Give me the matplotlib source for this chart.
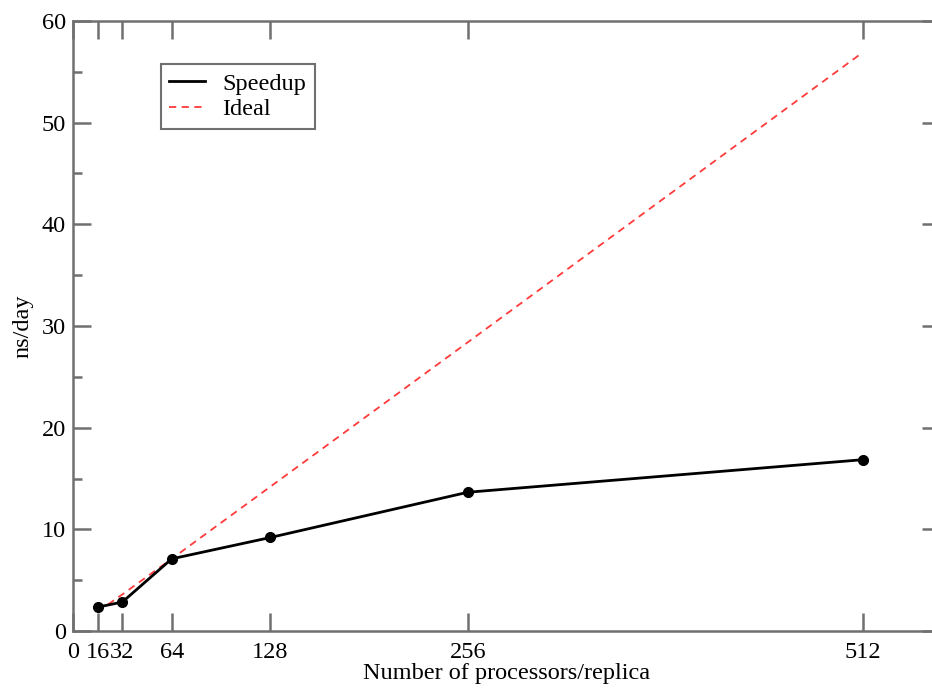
import numpy as np
import matplotlib.pyplot as plt
import matplotlib.ticker as ticker
from matplotlib.lines import Line2D

plt.rcParams['font.family'] = ['Liberation Serif', 'DejaVu Serif']

# data
procs = [16, 32, 64, 128, 256, 512]
speedup = [2.35, 2.85, 7.1, 9.2, 13.65, 16.85]
ideal = [1.9, 3.6, 7.1, 14.2, 28.4, 56.9]
xticks = [0, 16, 32, 64, 128, 256, 512]

fig = plt.figure(figsize=(9.32, 6.88), dpi=100)
# right spine sits just past the image edge, as in the reference crop
ax = fig.add_axes([0.0783, 0.0828, 0.930, 0.8867])

ax.plot(procs, speedup, color='black', lw=2, marker='o', ms=7, zorder=3)
ax.plot(procs, ideal, color='#ff3a3a', lw=1.3, ls=(0, (4, 3)), zorder=2)

ax.set_xlim(0, 562)
ax.set_ylim(0, 60)
ax.set_xticks(xticks)
ax.set_yticks(range(0, 61, 10))
ax.yaxis.set_minor_locator(ticker.MultipleLocator(5))

for s in ax.spines.values():
    s.set_color('#707070')
    s.set_linewidth(1.8)
ax.tick_params(which='both', direction='in', top=True, right=True, color='#707070',
               labelsize=17.5, width=1.8)
ax.tick_params(which='major', length=13)
ax.tick_params(which='minor', length=6.5, right=False)
ax.tick_params(axis='x', pad=8)
ax.tick_params(axis='y', pad=5)

ax.set_xlabel('Number of processors/replica', fontsize=17.5, labelpad=0)
ax.set_ylabel('ns/day', fontsize=17.5, labelpad=6)

handles = [Line2D([], [], color='black', lw=2),
           Line2D([], [], color='#ff3a3a', lw=1.3, ls=(0, (4, 3)))]
leg = ax.legend(handles, ['Speedup', 'Ideal'], loc='upper left',
                bbox_to_anchor=(0.101, 0.929), fontsize=17.5,
                fancybox=False, framealpha=1, edgecolor='#707070',
                handlelength=1.5, handletextpad=0.7, borderpad=0.35,
                labelspacing=0.15, borderaxespad=0)
leg.get_frame().set_linewidth(1.5)

fig.savefig('out.png', dpi=100)
